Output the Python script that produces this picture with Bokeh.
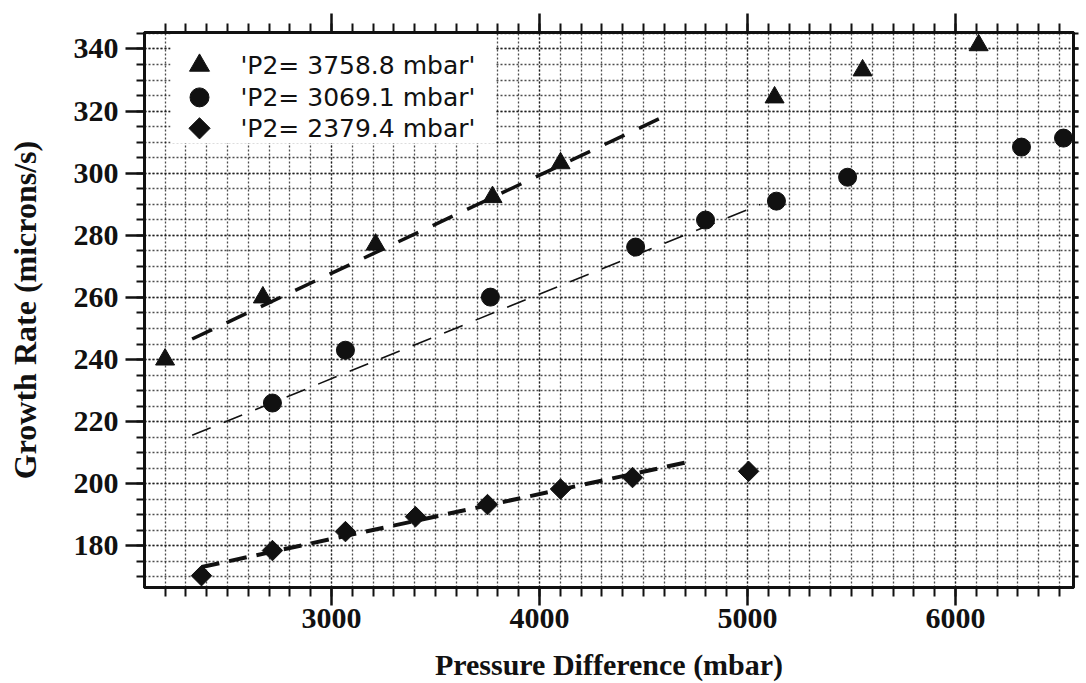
import numpy as np
from bokeh.plotting import figure
from bokeh.models import Range1d, SingleIntervalTicker, LinearAxis
from bokeh.core.properties import value
from bokeh.embed import file_html
from bokeh.resources import INLINE

# ---------------- data ----------------
series_labels = ["'P2= 3758.8 mbar'", "'P2= 3069.1 mbar'", "'P2= 2379.4 mbar'"]

tri_x = [2200, 2670, 3212, 3774, 4101, 5130, 5553, 6111]
tri_y = [240.0, 260.0, 277.0, 292.3, 303.2, 324.4, 333.1, 341.2]

circ_x = [2716, 3067, 3764, 4462, 4798, 5139, 5481, 6317, 6519]
circ_y = [226.0, 243.0, 260.1, 276.2, 284.9, 291.0, 298.7, 308.4, 311.3]

diam_x = [2375, 2716, 3067, 3404, 3750, 4101, 4447, 5005]
diam_y = [170.4, 178.5, 184.6, 189.4, 193.3, 198.3, 202.0, 204.0]

# fitted (dashed) lines: end points
tri_fit_x = [2330, 4600]
tri_fit_y = [246.6, 318.3]
circ_fit_x = [2330, 5060]
circ_fit_y = [215.6, 289.9]
diam_fit_x = [2376, 4700]
diam_fit_y = [173.2, 206.8]

x_title = "Pressure Difference (mbar)"
y_title = "Growth Rate (microns/s)"

# ---------------- figure geometry ----------------
X0, X1 = 2101, 6567
Y0, Y1 = 166.6, 345.3
FRAME_W, FRAME_H = 929, 556


def sx2x(px):
    # horizontal pixel offset from the frame's left edge -> data x
    return X0 + px / FRAME_W * (X1 - X0)


def sy2y(py):
    # vertical pixel offset from the frame's top edge -> data y
    return Y1 - py / FRAME_H * (Y1 - Y0)


INK = "#111111"
p = figure(width=1086, height=683, output_backend="svg", toolbar_location=None,
           x_range=Range1d(X0, X1), y_range=Range1d(Y0, Y1),
           min_border_left=144, min_border_right=13, min_border_top=32,
           min_border_bottom=95)
p.background_fill_color = "white"
p.border_fill_color = "white"
p.outline_line_color = INK
p.outline_line_width = 3

xt = SingleIntervalTicker(interval=1000, num_minor_ticks=10)
yt = SingleIntervalTicker(interval=20, num_minor_ticks=4)

p.xaxis.ticker = xt
p.yaxis.ticker = yt
p.xgrid.ticker = xt
p.ygrid.ticker = yt

for g in (p.xgrid, p.ygrid):
    g.grid_line_color = INK
    g.grid_line_dash = "2 2"
    g.grid_line_width = 1.3
    g.grid_line_alpha = 0.75
    g.minor_grid_line_color = INK
    g.minor_grid_line_dash = "2 2"
    g.minor_grid_line_width = 1.3
    g.minor_grid_line_alpha = 0.75


def style_axis(ax, major_out, minor_out):
    ax.axis_line_color = INK
    ax.axis_line_width = 3
    ax.major_tick_line_color = INK
    ax.minor_tick_line_color = INK
    ax.major_tick_line_width = 2.5
    ax.minor_tick_line_width = 2
    ax.major_tick_in = 0
    ax.minor_tick_in = 0
    ax.major_tick_out = major_out
    ax.minor_tick_out = minor_out
    ax.major_label_text_font = "Liberation Serif"
    ax.major_label_text_font_style = "bold"
    ax.major_label_text_font_size = "30px"
    ax.major_label_text_color = INK
    ax.axis_label_text_font = "Liberation Serif"
    ax.axis_label_text_font_style = "bold"
    ax.axis_label_text_color = INK


xa = p.xaxis[0]
style_axis(xa, 18, 9)
xa.major_label_standoff = 3
xa.axis_label = x_title
xa.axis_label_text_font_size = "30px"
xa.axis_label_standoff = 17

ya = p.yaxis[0]
style_axis(ya, 19, 8)
ya.major_label_standoff = 7
ya.axis_label = y_title
ya.axis_label_text_font_size = "32px"
ya.axis_label_standoff = 28

top = LinearAxis(ticker=xt)
style_axis(top, 19, 9)
top.major_label_text_font_size = "1px"
top.major_label_text_alpha = 0
top.major_label_standoff = 0
p.add_layout(top, "above")

right = LinearAxis(ticker=yt)
style_axis(right, 5, 5)
right.major_label_text_font_size = "1px"
right.major_label_text_alpha = 0
right.major_label_standoff = 0
p.add_layout(right, "right")

# ---------------- legend box (white, hides the grid) ----------------
p.quad(left=[sx2x(26)], right=[sx2x(351)], top=[sy2y(0)], bottom=[sy2y(111)],
       fill_color="white", line_color=None)

# fitted lines
p.line(tri_fit_x, tri_fit_y, line_color=INK, line_width=3.5, line_dash="22 16")
p.line(circ_fit_x, circ_fit_y, line_color=INK, line_width=1.6, line_dash="20 14")
p.line(diam_fit_x, diam_fit_y, line_color=INK, line_width=4, line_dash="18 10")

# markers
p.scatter(tri_x, tri_y, marker="triangle", size=19, fill_color=INK, line_color=INK)
p.scatter(circ_x, circ_y, marker="circle", size=18, fill_color=INK, line_color=INK)
p.scatter(diam_x, diam_y, marker="square", size=14.5, angle=np.pi / 4,
          fill_color=INK, line_color=INK)

# legend entries
row_py = [33, 65, 96]
mk_x = sx2x(55)
p.scatter([mk_x], [sy2y(row_py[0])], marker="triangle", size=20, fill_color=INK, line_color=INK)
p.scatter([mk_x], [sy2y(row_py[1])], marker="circle", size=19, fill_color=INK, line_color=INK)
p.scatter([mk_x], [sy2y(row_py[2])], marker="square", size=15, angle=np.pi / 4,
          fill_color=INK, line_color=INK)
p.text(x=[sx2x(96)] * 3, y=[sy2y(v) for v in row_py], text=series_labels,
       text_font=value("DejaVu Sans"), text_font_size=value("25px"),
       text_color=INK, text_align="left", text_baseline="middle")

open("out.html", "w").write(file_html(p, INLINE))
